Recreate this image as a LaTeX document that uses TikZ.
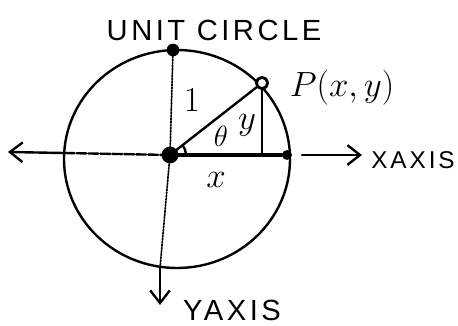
\documentclass[tikz,border=0pt]{standalone}
\usepackage{fontspec}
\newfontfamily\handfont[LetterSpace=12]{Liberation Sans}
\usetikzlibrary{arrows.meta}
\begin{document}
\begin{tikzpicture}[x=0.025cm,y=-0.025cm,line cap=round,
  hand/.style={line width=1.7pt},
  barb/.style={-{Straight Barb[length=9pt,width=14pt,line width=1.7pt]}},
  ptdot/.style={circle,fill,inner sep=0pt,minimum size=#1}]
\useasboundingbox (0,0) rectangle (458,326);
\coordinate (O) at (170,155);
\coordinate (lc) at (64,153);
\coordinate (lend) at (8,152);
\coordinate (rs) at (302,155);
\coordinate (rend) at (362,155);
\coordinate (b) at (160,268);
\coordinate (dend) at (160,305);
\coordinate (f) at (262,154);
\draw[hand] (177,159) ellipse[x radius=113,y radius=109];
\draw[line width=1.2pt,densely dotted] (173,50) -- (O) -- (b);
\draw[hand,barb] (b) -- (dend);
\draw[hand,dash pattern=on 7pt off 1.5pt] (O) -- (lc);
\draw[hand,barb] (lc) -- (lend);
\draw[hand,barb] (rs) -- (rend);
\node[ptdot=12pt] (o) at (O) {};
\node[ptdot=9pt] (t) at (173,50) {};
\node[ptdot=7pt] (xp) at (287,155) {};
\node[circle,draw,fill=white,line width=2pt,inner sep=0pt,minimum size=8pt] (p) at (262,83) {};
\draw[line width=2.4pt] (o.center) -- (xp);
\draw[hand] (o.center) -- (p);
\draw[hand] (p) -- (f);
\draw[hand] (186,155) arc[start angle=0,end angle=-38,radius=16];
\node[font=\handfont\huge] (title) at (214,30) {UNIT CIRCLE};
\node[font=\Huge] (plabel) at (342,88) {$P(x,y)$};
\node[font=\Huge] (one) at (192,100) {$1$};
\node[font=\huge] (theta) at (221,136) {$\theta$};
\node[font=\Huge] (ylab) at (247,125) {$y$};
\node[font=\Huge] (xlab) at (216,180) {$x$};
\node[font=\handfont\LARGE] (xaxis) at (413,160) {XAXIS};
\node[font=\handfont\huge] (yaxis) at (232,310) {YAXIS};
\end{tikzpicture}
\end{document}
